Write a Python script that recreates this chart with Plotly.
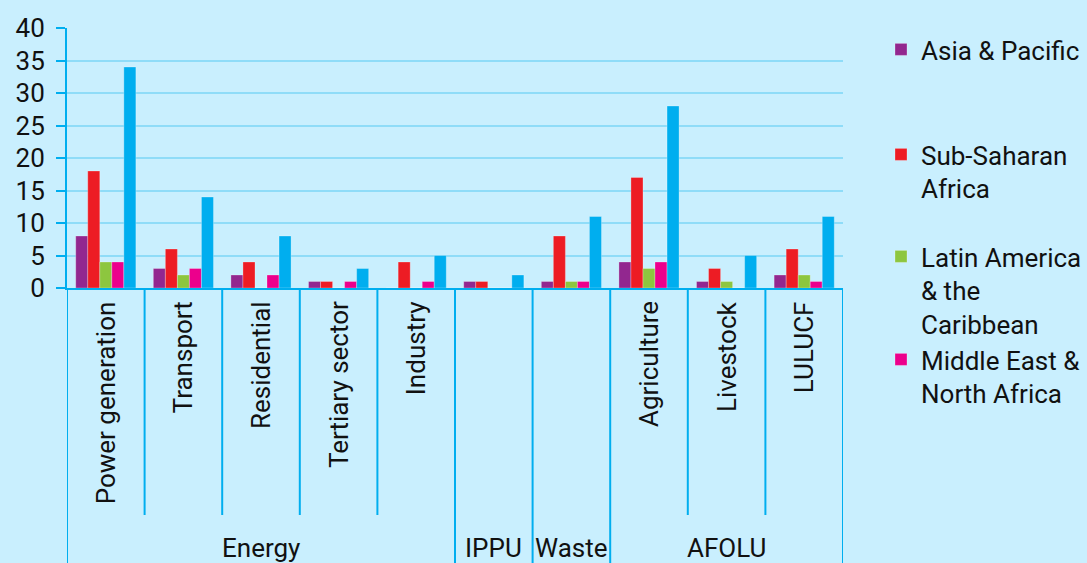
import plotly.graph_objects as go

categories = ["Power generation", "Transport", "Residential", "Tertiary sector", "Industry",
              "", " ", "Agriculture", "Livestock", "LULUCF"]
groups = ["Energy", "Energy", "Energy", "Energy", "Energy", "IPPU", "Waste", "AFOLU", "AFOLU", "AFOLU"]

series_names = ["Asia & Pacific", "Sub-Saharan<br>Africa", "Latin America<br>& the<br>Caribbean",
                "Middle East &<br>North Africa", "Total"]
asia_pacific = [8, 3, 2, 1, 0, 1, 1, 4, 1, 2]
sub_saharan = [18, 6, 4, 1, 4, 1, 8, 17, 3, 6]
latin_america = [4, 2, 0, 0, 0, 0, 1, 3, 1, 2]
mena = [4, 3, 2, 1, 1, 0, 1, 4, 0, 1]
total = [34, 14, 8, 3, 5, 2, 11, 28, 5, 11]

colors = ["#92278f", "#ed1c24", "#8dc63f", "#ec008c", "#00aeef"]
values = [asia_pacific, sub_saharan, latin_america, mena, total]
legend_ids = ["legend", "legend2", "legend3", "legend4", None]

FONT = "Roboto"
FS = 26
AXIS_COL = "#00aeef"
BG = "#c9effe"
TXT = "#111111"

xs = list(range(len(categories)))
fig = go.Figure()
for name, vals, col, lg in zip(series_names, values, colors, legend_ids):
    kw = dict(legend=lg) if lg else dict(showlegend=False)
    fig.add_trace(go.Bar(x=xs, y=vals, name=name,
                         marker=dict(color=col, line=dict(width=0.6, color="rgba(255,255,255,0.45)")),
                         **kw))

# plot area: 67..843 x, 28..288 y
W, H = 1087, 563
L, R, T, B = 67, 1087 - 843, 28, 563 - 288
ph = H - T - B

def py(ypx):
    return (H - B - ypx) / ph

shapes = []
annotations = []
n = len(categories)
# dividers
for i in range(n + 1):
    b = i - 0.5
    full = (i == 0 or i == n or groups[i - 1] != groups[i])
    shapes.append(dict(type="line", xref="x", yref="paper", x0=b, x1=b, y0=0,
                       y1=py(570 if full else 515), line=dict(color=AXIS_COL, width=2)))
# category labels
for i, c in enumerate(categories):
    if c.strip():
        annotations.append(dict(x=i, y=py(299), xref="x", yref="paper", text=c, textangle=-90,
                                showarrow=False, xanchor="center", yanchor="top",
                                font=dict(family=FONT, size=FS, color=TXT)))
# group labels
seen = []
for g in groups:
    if g not in seen:
        seen.append(g)
for g in seen:
    idx = [i for i, gg in enumerate(groups) if gg == g]
    annotations.append(dict(x=sum(idx) / len(idx), y=py(548), xref="x", yref="paper", text=g,
                            showarrow=False, xanchor="center", yanchor="middle",
                            font=dict(family=FONT, size=FS, color=TXT)))

leg_common = dict(xref="container", yref="container", xanchor="left", yanchor="top",
                  bgcolor="rgba(0,0,0,0)",
                  font=dict(family=FONT, size=FS, color=TXT), valign="top", itemwidth=30,
                  traceorder="normal")
legend_tops = [26, 131, 233, 336]
lx = 881 / W
layout_legends = {}
for lg, top in zip(legend_ids[:4], legend_tops):
    layout_legends[lg] = dict(x=lx, y=1 - top / H, **leg_common)

fig.update_layout(
    width=W, height=H,
    margin=dict(l=L, r=R, t=T, b=B, autoexpand=False),
    paper_bgcolor=BG, plot_bgcolor=BG,
    barmode="group", bargap=0.225, bargroupgap=0,
    font=dict(family=FONT, size=FS, color=TXT),
    xaxis=dict(range=[-0.5, n - 0.5], showticklabels=False, showgrid=False, zeroline=False,
               showline=True, linecolor=AXIS_COL, linewidth=2, ticks=""),
    yaxis=dict(range=[0, 40], dtick=5, showgrid=True, gridcolor="#8fdcf8", gridwidth=2,
               zeroline=False, showline=True, linecolor=AXIS_COL, linewidth=2,
               ticks="outside", ticklen=9, tickwidth=2, tickcolor=AXIS_COL,
               ticklabelstandoff=6,
               tickfont=dict(family=FONT, size=FS, color=TXT)),
    shapes=shapes, annotations=annotations,
    **layout_legends,
)
fig.write_html("out.html", config={"displayModeBar": False},
               post_script="document.body.style.margin='0';document.body.style.background='%s';" % BG)
